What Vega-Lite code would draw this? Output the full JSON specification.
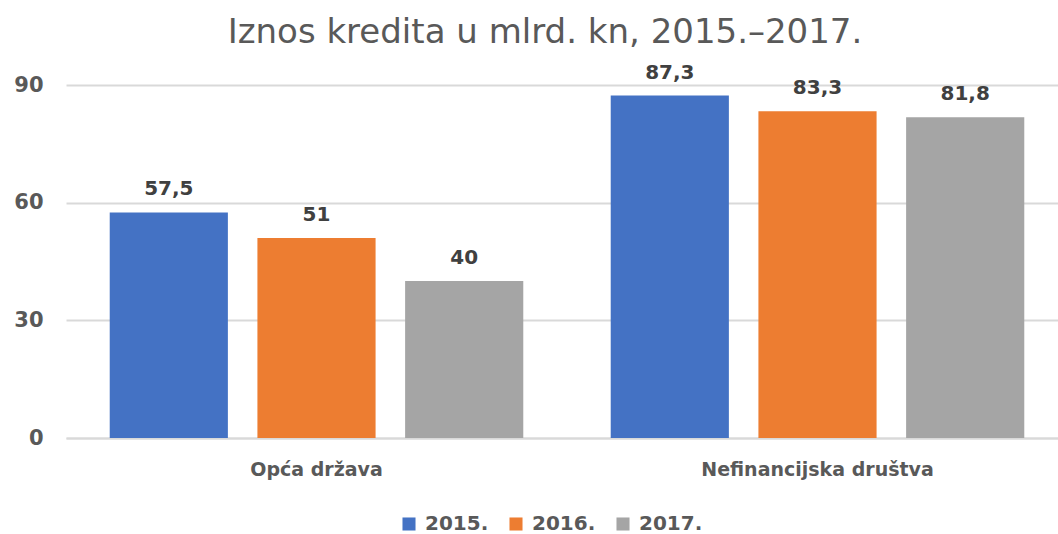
{
  "$schema": "https://vega.github.io/schema/vega-lite/v6.json",
  "autosize": "none",
  "width": 1002,
  "height": 353,
  "padding": {"left": 66, "top": 85, "right": -10, "bottom": 96},
  "background": "white",
  "config": {
    "locale": {"number": {"decimal": ",", "thousands": ".", "grouping": [3], "currency": ["", " kn"]}},
    "view": {"stroke": null},
    "font": "DejaVu Sans"
  },
  "title": {
    "text": "Iznos kredita u mlrd. kn, 2015.–2017.",
    "font": "DejaVu Sans",
    "fontSize": 34,
    "fontWeight": "normal",
    "color": "#595959",
    "anchor": "middle",
    "dx": -22,
    "baseline": "top",
    "offset": 13
  },
  "data": {
    "values": [
      {"sektor": "Opća država", "godina": "2015.", "iznos": 57.5},
      {"sektor": "Opća država", "godina": "2016.", "iznos": 51},
      {"sektor": "Opća država", "godina": "2017.", "iznos": 40},
      {"sektor": "Nefinancijska društva", "godina": "2015.", "iznos": 87.3},
      {"sektor": "Nefinancijska društva", "godina": "2016.", "iznos": 83.3},
      {"sektor": "Nefinancijska društva", "godina": "2017.", "iznos": 81.8}
    ]
  },
  "encoding": {
    "x": {
      "field": "sektor",
      "type": "nominal",
      "sort": ["Opća država", "Nefinancijska društva"],
      "scale": {"paddingInner": 0, "paddingOuter": 0},
      "axis": {
        "title": null,
        "labelAngle": 0,
        "labelFont": "DejaVu Sans",
        "labelFontSize": 19,
        "labelFontWeight": "bold",
        "labelColor": "#595959",
        "labelPadding": 22,
        "labelLimit": 0,
        "domainColor": "#D9D9D9",
        "domainWidth": 2,
        "ticks": false
      }
    },
    "xOffset": {
      "field": "godina",
      "type": "nominal",
      "scale": {"paddingInner": 0.2, "paddingOuter": 0.296}
    },
    "y": {
      "field": "iznos",
      "type": "quantitative",
      "scale": {"domain": [0, 90], "nice": false},
      "axis": {
        "title": null,
        "values": [0, 30, 60, 90],
        "labelFont": "DejaVu Sans",
        "labelFontSize": 21,
        "labelFontWeight": "bold",
        "labelColor": "#595959",
        "labelPadding": 23,
        "domain": false,
        "ticks": false,
        "gridColor": "#D9D9D9",
        "gridWidth": 2
      }
    }
  },
  "layer": [
    {
      "mark": {"type": "bar"},
      "encoding": {
        "color": {
          "field": "godina",
          "type": "nominal",
          "scale": {"domain": ["2015.", "2016.", "2017."], "range": ["#4472C4", "#ED7D31", "#A5A5A5"]},
          "legend": {
            "title": null,
            "orient": "none",
            "legendX": 333,
            "legendY": 429,
            "direction": "horizontal",
            "symbolType": "square",
            "symbolSize": 170,
            "symbolStrokeWidth": 0,
            "labelFont": "DejaVu Sans",
            "labelFontSize": 20,
            "labelFontWeight": "bold",
            "labelColor": "#595959",
            "labelOffset": 6,
            "columnPadding": 17
          }
        }
      }
    },
    {
      "mark": {"type": "text", "dy": -17, "baseline": "alphabetic", "font": "DejaVu Sans", "fontSize": 20, "fontWeight": "bold", "color": "#404040"},
      "encoding": {
        "text": {"field": "iznos", "type": "quantitative", "format": ".1~f"}
      }
    }
  ]
}
